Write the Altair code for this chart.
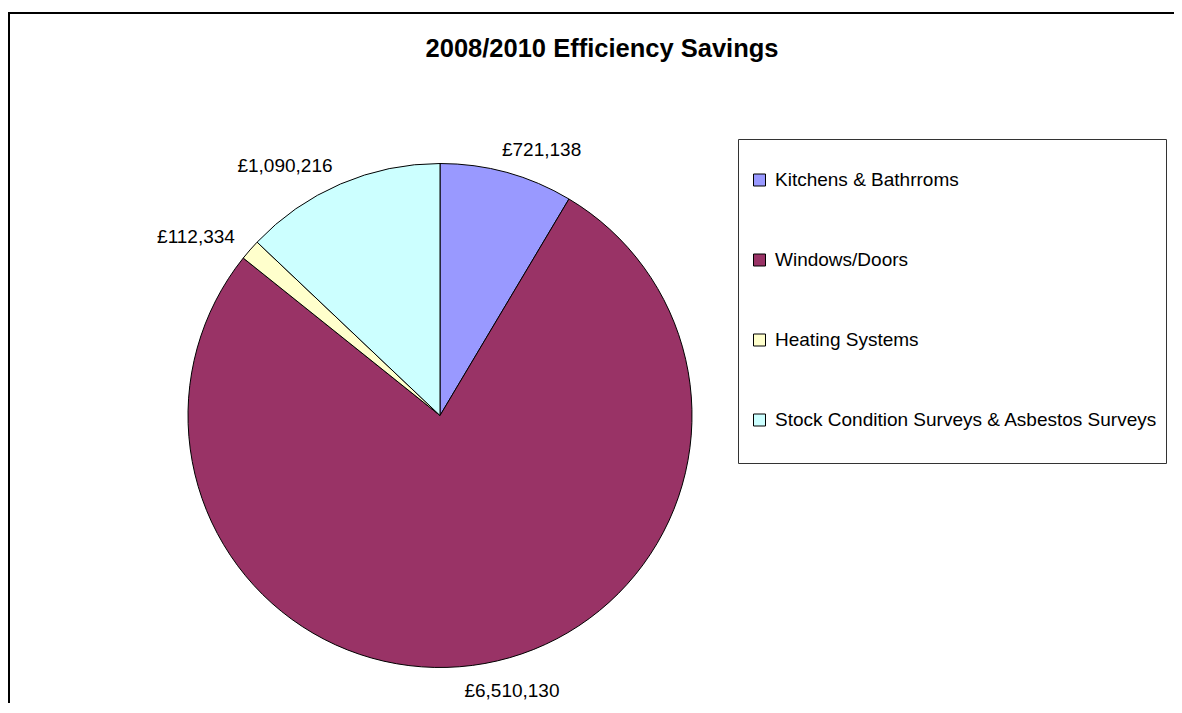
import altair as alt
import pandas as pd

TITLE = "2008/2010 Efficiency Savings"
categories = [
    "Kitchens & Bathrroms",
    "Windows/Doors",
    "Heating Systems",
    "Stock Condition Surveys & Asbestos Surveys",
]
values = [721138, 6510130, 112334, 1090216]
colors = ["#9999FF", "#993366", "#FFFFCC", "#CCFFFF"]

FONT = "Liberation Sans"
W, H = 1166, 695
CX, CY, R = 432, 407.5, 252

df = pd.DataFrame({"category": categories, "value": values, "order": list(range(len(values)))})
one = pd.DataFrame({"t": [TITLE]})

base = (
    alt.Chart(df)
    .transform_window(cum="sum(value)", sort=[alt.SortField("order")])
    .transform_joinaggregate(total="sum(value)")
    .transform_calculate(
        t0="2*PI*(datum.cum - datum.value)/datum.total",
        t1="2*PI*datum.cum/datum.total",
        mid="2*PI*(datum.cum - datum.value/2)/datum.total",
        label="'£' + format(datum.value, ',')",
    )
)

arcs = base.mark_arc(radius=R, stroke="black", strokeWidth=1, x=CX, y=CY).encode(
    theta=alt.Theta("t0:Q", scale=None),
    theta2="t1:Q",
    color=alt.Color(
        "category:N",
        scale=alt.Scale(domain=categories, range=colors),
        legend=alt.Legend(
            orient="none",
            legendX=742,
            legendY=162.5,
            title=None,
            symbolType="square",
            symbolSize=144,
            symbolStrokeColor="black",
            symbolStrokeWidth=1,
            symbolOpacity=1,
            labelFont=FONT,
            labelFontSize=19,
            labelColor="black",
            labelLimit=600,
            labelOffset=6,
            rowPadding=60,
            padding=0,
        ),
    ),
)

txt = dict(fontSize=19, font=FONT, color="black", baseline="middle", x=CX, y=CY)

lbl_left = base.transform_filter(
    (alt.datum.category == categories[2]) | (alt.datum.category == categories[3])
).mark_text(radius=272, align="right", **txt).encode(
    theta=alt.Theta("mid:Q", scale=None), text="label:N"
)
lbl_k = base.transform_filter(alt.datum.category == categories[0]).mark_text(
    radius=275, align="left", dx=-11, **txt
).encode(theta=alt.Theta("mid:Q", scale=None), text="label:N")
lbl_w = base.transform_filter(alt.datum.category == categories[1]).mark_text(
    radius=280, align="center", dx=22, **txt
).encode(theta=alt.Theta("mid:Q", scale=None), text="label:N")

title = alt.Chart(one).mark_text(
    font=FONT, fontSize=25.5, fontWeight="bold", color="black", align="center", baseline="alphabetic"
).encode(text="t:N", x=alt.value(594), y=alt.value(49))

frame_top = alt.Chart(one).mark_rule(color="black", strokeWidth=2).encode(
    x=alt.value(0), x2=alt.value(W), y=alt.value(5)
)
frame_left = alt.Chart(one).mark_rule(color="black", strokeWidth=2).encode(
    x=alt.value(1), y=alt.value(5), y2=alt.value(H)
)
legend_box = alt.Chart(one).mark_rect(fillOpacity=0, stroke="#333333", strokeWidth=1).encode(
    x=alt.value(730.5), x2=alt.value(1158.5), y=alt.value(131.5), y2=alt.value(455.5)
)

chart = (
    alt.layer(frame_top, frame_left, legend_box, arcs, lbl_left, lbl_k, lbl_w, title)
    .properties(width=W, height=H, padding=0, autosize="none", background="white")
    .configure_view(stroke=None)
)

chart.save("out.html", embed_options={"renderer": "svg", "actions": False})
